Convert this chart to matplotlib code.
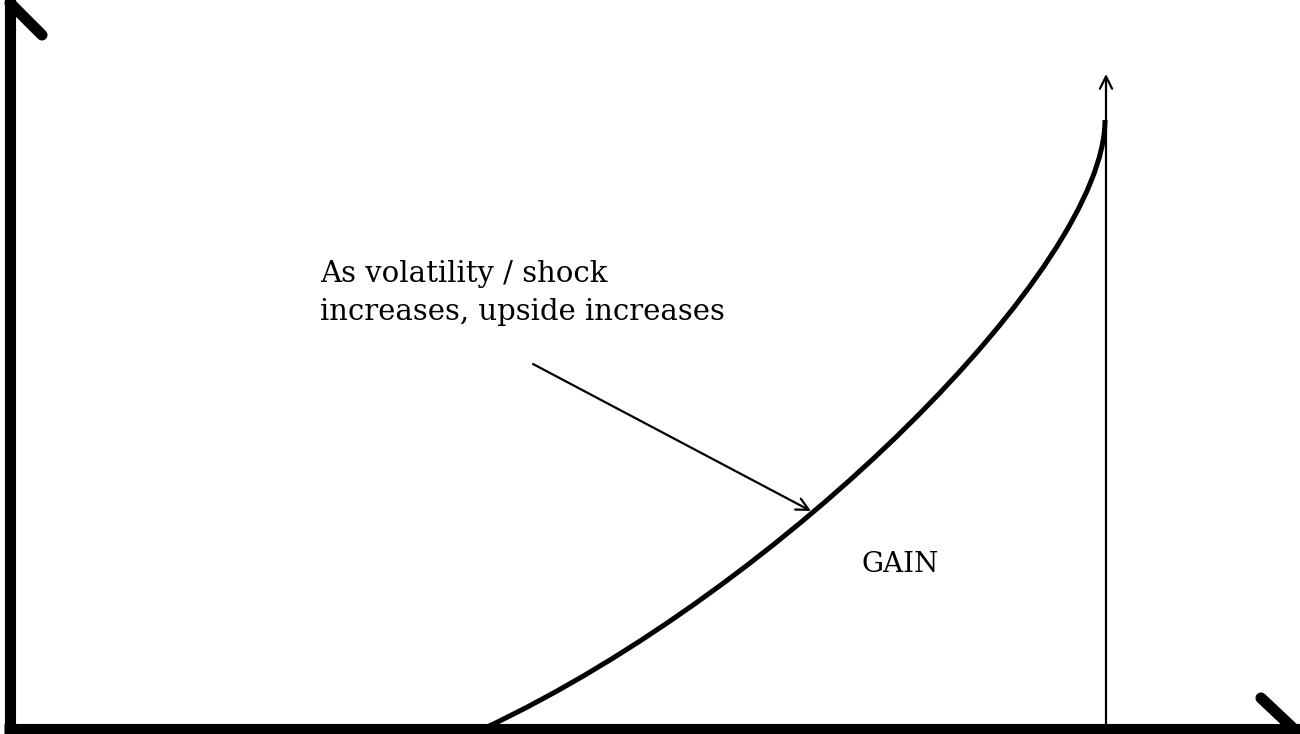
import matplotlib
matplotlib.use("Agg")
import matplotlib.pyplot as plt
from matplotlib.path import Path
from matplotlib.patches import PathPatch

# Curve: start, two Bezier handles, end
# (x, height above bottom edge)
curve_x = [485, 785, 1105, 1105]
curve_y = [6, 147, 468, 614]

annotation_text = "As volatility / shock\nincreases, upside increases"
gain_label = "GAIN"

W, H = 1300, 734
fig = plt.figure(figsize=(13, 7.34), dpi=100)
ax = fig.add_axes([0, 0, 1, 1])
ax.set_xlim(0, W)
ax.set_ylim(0, H)
ax.axis("off")

# thick axes
ax.plot([10, 10], [0, H + 5], color="black", lw=8, solid_capstyle="butt")
ax.plot([4, W + 5], [5.5, 5.5], color="black", lw=8, solid_capstyle="butt")
# arrow strokes at axis ends
ax.plot([10, 42], [H - 3, H - 35], color="black", lw=8, solid_capstyle="round")
ax.plot([1261, 1295], [H - 698, H - 730], color="black", lw=8, solid_capstyle="round")

# vertical thin arrow
ax.annotate("", xy=(1106, H - 74), xytext=(1106, 0),
            arrowprops=dict(arrowstyle="->", lw=1.6, color="black",
                            mutation_scale=22, shrinkA=0, shrinkB=0))

# curve (smooth cubic Bezier through the read anchors)
verts = list(zip(curve_x, curve_y))
codes = [Path.MOVETO, Path.CURVE4, Path.CURVE4, Path.CURVE4]
ax.add_patch(PathPatch(Path(verts, codes), facecolor="none",
                       edgecolor="black", lw=3.6, capstyle="butt"))

# annotation arrow
ax.annotate("", xy=(811, H - 511), xytext=(533, H - 364),
            arrowprops=dict(arrowstyle="->", lw=1.6, color="black",
                            mutation_scale=22, shrinkA=0, shrinkB=0))

ax.text(320, H - 260, annotation_text, fontsize=21, family="DejaVu Serif",
        va="top", ha="left", linespacing=1.45)
ax.text(900, H - 565, gain_label, fontsize=20, family="DejaVu Serif",
        va="center", ha="center")

fig.savefig("out.png", dpi=100)
